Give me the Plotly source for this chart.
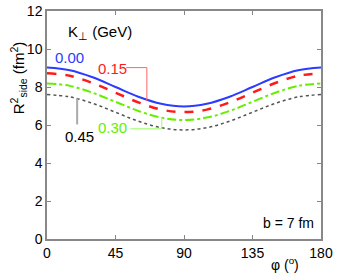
import plotly.graph_objects as go

phi = [0, 15, 30, 45, 60, 75, 90, 105, 120, 135, 150, 165, 180]
r_000 = [9.02, 8.88, 8.51, 8.00, 7.49, 7.12, 6.98, 7.12, 7.49, 8.00, 8.51, 8.88, 9.02]
r_015 = [8.72, 8.59, 8.21, 7.70, 7.19, 6.81, 6.68, 6.81, 7.19, 7.70, 8.21, 8.59, 8.72]
r_030 = [8.19, 8.06, 7.70, 7.22, 6.74, 6.39, 6.26, 6.39, 6.74, 7.22, 7.70, 8.06, 8.19]
r_045 = [7.61, 7.48, 7.14, 6.67, 6.20, 5.86, 5.74, 5.86, 6.20, 6.67, 7.14, 7.48, 7.61]
x_ticks = [0, 45, 90, 135, 180]
y_ticks = [0, 2, 4, 6, 8, 10, 12]

FONT = "Liberation Sans, Arial, sans-serif"
fig = go.Figure()
series = [
    (r_045, "#555555", "dot", 1.5),
    (r_030, "#66ee00", "dashdot", 2),
    (r_015, "#ff1a1a", "dash", 2.5),
    (r_000, "#2b3bff", "solid", 2),
]
for ys, c, d, w in series:
    fig.add_trace(go.Scatter(x=phi, y=ys, mode="lines", line=dict(color=c, dash=d, width=w, shape="spline"),
                             showlegend=False, hoverinfo="skip"))

# connector lines
fig.add_shape(type="path", path="M 52 9.02 L 65.6 9.02 L 65.6 7.25", line=dict(color="#ff6666", width=1), xref="x", yref="y")
fig.add_shape(type="line", x0=19.8, x1=19.8, y0=7.40, y1=6.03, line=dict(color="#aaaaaa", width=2), xref="x", yref="y")
fig.add_shape(type="path", path="M 54.7 5.80 L 75.4 5.80 L 75.4 6.36", line=dict(color="#99ff66", width=1), xref="x", yref="y")

def ann(x, y, t, c, xa="center", size=15):
    fig.add_annotation(x=x, y=y, text=t, showarrow=False, xref="x", yref="y", xanchor=xa,
                       font=dict(color=c, size=size, family=FONT))

ann(12.8, 10.85, "K<sub>⊥</sub> (GeV)", "#000000", "left")
ann(15, 9.54, "0.00", "#2b3bff")
ann(42.9, 8.98, "0.15", "#ff1a1a")
ann(42.9, 5.87, "0.30", "#66ee00")
ann(21.3, 5.40, "0.45", "#000000")
ann(176.4, 0.82, "b = 7 fm", "#000000", "right", 14)

# axis titles
fig.add_annotation(x=(285 - 46.5) / 275, y=-(264 - 239.3) / 228, xref="paper", yref="paper",
                   xanchor="center", yanchor="middle",
                   text="φ (<sup>o</sup>)", showarrow=False,
                   font=dict(size=14, family=FONT, color="#000"))
fig.add_annotation(x=(18 - 46.5) / 275, y=(239.3 - 78) / 228, xref="paper", yref="paper",
                   xanchor="center", yanchor="middle", textangle=-90,
                   text="R<sup>2</sup><sub>side</sub> (fm<sup>2</sup>)", showarrow=False,
                   font=dict(size=15, family=FONT, color="#000"))

axis_common = dict(showgrid=False, zeroline=False, showline=True, linecolor="#888888", linewidth=1.5,
                   mirror="ticks", ticks="inside", ticklen=4, tickcolor="#888888", automargin=False,
                   tickfont=dict(size=14, family=FONT, color="#000"))
fig.update_xaxes(range=[0, 180], tickvals=x_ticks, **axis_common)
fig.update_yaxes(range=[0, 12], tickvals=y_ticks, **axis_common)

fig.update_layout(width=338, height=273, margin=dict(l=46.5, r=16.5, t=11.3, b=33.7),
                  paper_bgcolor="white", plot_bgcolor="white", font=dict(family=FONT))
fig.write_html("out.html", config={"displayModeBar": False},
               post_script="document.body.style.margin='0';document.body.style.overflow='hidden';")
